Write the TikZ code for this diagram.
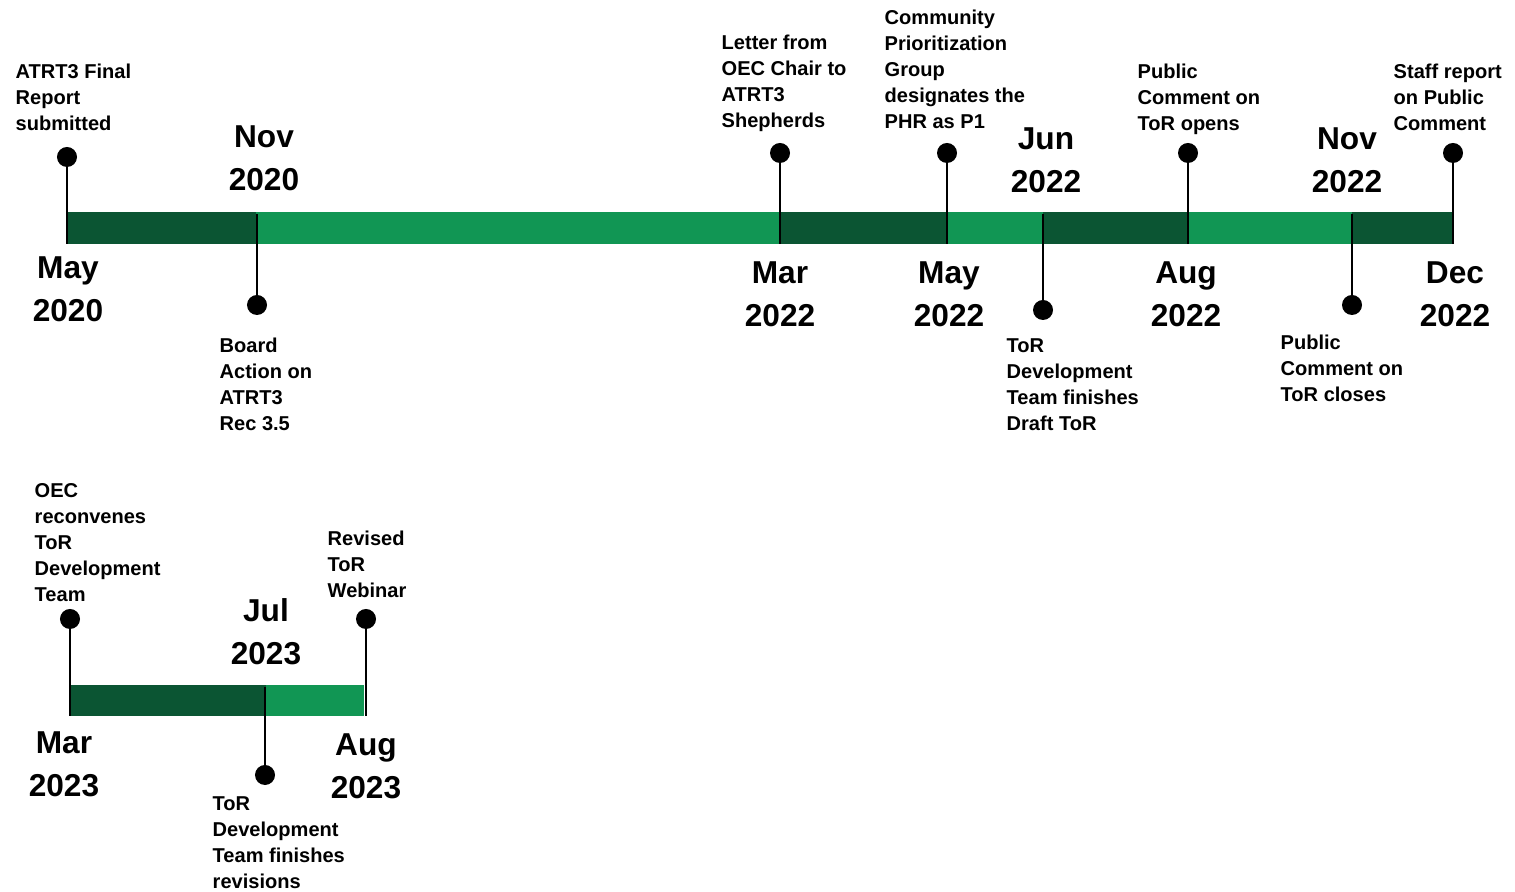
\documentclass[tikz,border=0pt]{standalone}
\usepackage{fontspec}
\setmainfont{Liberation Sans}
\definecolor{darkgrn}{HTML}{0B5533}
\definecolor{lightgrn}{HTML}{119654}
\begin{document}
\begin{tikzpicture}[x=0.01cm,y=-0.01cm,
  pin/.style={circle,fill=black,inner sep=0,minimum size=0.2cm},
  stem/.style={line width=0.75pt},
  event/.style={anchor=base west,align=left,inner sep=0,font=\fontsize{5.7}{7.4}\selectfont\bfseries},
  datelbl/.style={anchor=base,align=center,inner sep=0,font=\fontsize{9}{12.5}\selectfont\bfseries}]
\useasboundingbox (0,0) rectangle (1515,892);
% top bar
\fill[darkgrn](67,212) rectangle (256,244);
\fill[lightgrn](256,212) rectangle (780,244);
\fill[darkgrn](780,212) rectangle (947,244);
\fill[lightgrn](947,212) rectangle (1043,244);
\fill[darkgrn](1043,212) rectangle (1188,244);
\fill[lightgrn](1188,212) rectangle (1352,244);
\fill[darkgrn](1352,212) rectangle (1453,244);
% bottom bar
\fill[darkgrn](70,685) rectangle (266,716);
\fill[lightgrn](266,685) rectangle (364,716);
% pins
\node[pin](may20) at (67,157){};   \coordinate(may20b) at (67,244);
\node[pin](nov20) at (257,305){};  \coordinate(nov20b) at (257,214);
\node[pin](mar22) at (780,153){};  \coordinate(mar22b) at (780,244);
\node[pin](may22) at (947,153){};  \coordinate(may22b) at (947,244);
\node[pin](jun22) at (1043,310){}; \coordinate(jun22b) at (1043,214);
\node[pin](aug22) at (1188,153){}; \coordinate(aug22b) at (1188,244);
\node[pin](nov22) at (1352,305){}; \coordinate(nov22b) at (1352,214);
\node[pin](dec22) at (1453,153){}; \coordinate(dec22b) at (1453,244);
\node[pin](mar23) at (70,619){};   \coordinate(mar23b) at (70,716);
\node[pin](jul23) at (265,775){};  \coordinate(jul23b) at (265,687);
\node[pin](aug23) at (366,619){};  \coordinate(aug23b) at (366,716);
\foreach \p in {may20,nov20,mar22,may22,jun22,aug22,nov22,dec22,mar23,jul23,aug23}
  \draw[stem](\p.center)--(\p b);
% dates (placed at baseline of second line)
\node[datelbl](dmay20) at (68,322){May\\2020};
\node[datelbl](dnov20) at (264,191){Nov\\2020};
\node[datelbl](dmar22) at (780,327){Mar\\2022};
\node[datelbl](dmay22) at (949,327){May\\2022};
\node[datelbl](djun22) at (1046,193){Jun\\2022};
\node[datelbl](daug22) at (1186,327){Aug\\2022};
\node[datelbl](dnov22) at (1347,193){Nov\\2022};
\node[datelbl](ddec22) at (1455,327){Dec\\2022};
\node[datelbl](djul23) at (266,665){Jul\\2023};
\node[datelbl](dmar23) at (64,797){Mar\\2023};
\node[datelbl](daug23) at (366,799){Aug\\2023};
% events (placed at baseline of last line)
\node[event](e1) at (15,131){ATRT3 Final\\Report\\submitted};
\node[event](e2) at (219,431){Board\\Action on\\ATRT3\\Rec 3.5};
\node[event](e3) at (721,128){Letter from\\OEC Chair to\\ATRT3\\Shepherds};
\node[event](e4) at (884,129){Community\\Prioritization\\Group\\designates the\\PHR as P1};
\node[event](e5) at (1137,131){Public\\Comment on\\ToR opens};
\node[event](e6) at (1393,131){Staff report\\on Public\\Comment};
\node[event](e7) at (1006,431){ToR\\Development\\Team finishes\\Draft ToR};
\node[event](e8) at (1280,402){Public\\Comment on\\ToR closes};
\node[event](e9) at (34,602){OEC\\reconvenes\\ToR\\Development\\Team};
\node[event](e10) at (327,598){Revised\\ToR\\Webinar};
\node[event](e11) at (212,889){ToR\\Development\\Team finishes\\revisions};
\end{tikzpicture}
\end{document}
